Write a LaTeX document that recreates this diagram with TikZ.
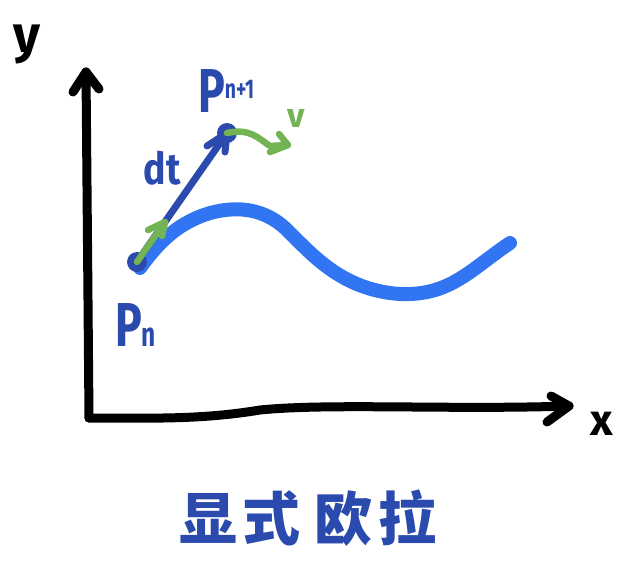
\documentclass[tikz,border=0pt]{standalone}
\usepackage{fontspec}
\setmainfont{Fira Sans}
\newfontfamily\cjk{Noto Sans CJK SC}
\definecolor{darkblue}{HTML}{2B4AAE}
\definecolor{lightblue}{HTML}{3175F2}
\definecolor{greenpen}{HTML}{72B454}
\begin{document}
\begin{tikzpicture}[x=1pt,y=-1pt,
  pen/.style={line cap=round,line join=round},
  axis/.style={pen,black,line width=9pt},
  curve/.style={pen,lightblue,line width=14pt},
  dtline/.style={pen,darkblue,line width=7pt},
  vline/.style={pen,greenpen,line width=6.5pt},
  dot/.style={circle,fill=darkblue,minimum size=20pt,inner sep=0pt},
  lbl/.style={inner sep=0pt,font=\bfseries},
]
\useasboundingbox (0,0) rectangle (633,582);
% axes
\coordinate (origin) at (89,418);
\coordinate (ytop) at (86,72);
\coordinate (xend) at (569,406);
\draw[axis] (ytop) -- (88,300) -- (origin);
\draw[axis] (origin) .. controls (150,418) and (200,420) .. (260,410)
  .. controls (330,403) and (450,410) .. (xend);
\draw[axis] (73,92) -- (ytop) -- (99,89);
\draw[axis] (551,396) -- (xend) -- (547,422);
% axis labels
\node[lbl,font=\fontsize{52}{52}\selectfont\bfseries] (ylab) at (27,44) {y};
\node[lbl,font=\fontsize{44}{44}\selectfont\bfseries] (xlab) at (602,424) {x};
% function curve
\draw[curve] (140,268) .. controls (160,240) and (180,222) .. (210,213)
  .. controls (240,205) and (265,210) .. (285,228)
  .. controls (310,252) and (340,290) .. (400,294)
  .. controls (450,296) and (470,270) .. (510,243);
% points
\node[dot] (pn) at (137,262) {};
\node[dot] (pn1) at (227,133) {};
\draw[dtline] (pn.center) -- (pn1.center);
\coordinate (dtl) at (207,146);
\coordinate (dtr) at (225,152);
\draw[dtline] (dtl) -- (pn1.center) -- (dtr);
% green tangent arrow at Pn
\coordinate (vtip) at (165,222);
\draw[vline] (pn.center) -- (vtip);
\draw[vline] (148,230) -- (vtip) -- (162,236);
% green arrow at Pn+1
\coordinate (vtip2) at (288,145);
\draw[vline] (pn1.center) .. controls (250,128) and (258,138) .. (270,146) -- (vtip2);
\draw[vline] (279,134) -- (vtip2) -- (270,152);
% labels
\node[lbl,darkblue,anchor=south west,xscale=0.72] (lpn) at (115,347)
  {\fontsize{62}{62}\selectfont P\fontsize{34}{34}\selectfont n};
\node[lbl,darkblue,anchor=south west,xscale=0.72] (lpn1) at (198,113)
  {\fontsize{62}{62}\selectfont P\raisebox{14pt}{\fontsize{27}{27}\selectfont n+1}};
\node[lbl,darkblue,xscale=0.85] (ldt) at (162,168) {\fontsize{44}{44}\selectfont dt};
\node[lbl,greenpen] (lv) at (296,118) {\fontsize{34}{34}\selectfont v};
% title
\node[lbl,darkblue,font=\cjk\bfseries\fontsize{58}{58}\selectfont] (title) at (308,518)
  {显\hspace{6pt}式\hspace{14pt}欧\hspace{6pt}拉};
\end{tikzpicture}
\end{document}
